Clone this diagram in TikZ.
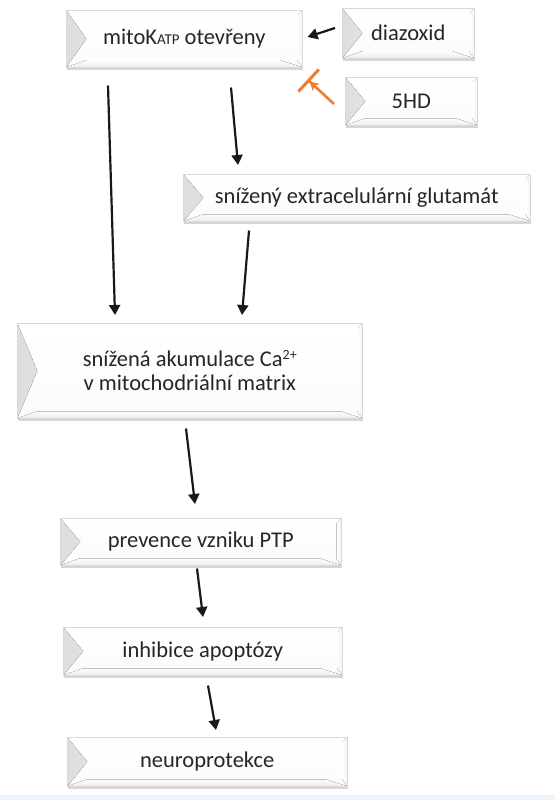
\documentclass[tikz,border=0pt]{standalone}
\usepackage{fontspec}
\setmainfont{Carlito}
\usetikzlibrary{arrows.meta,calc,shadows}
\definecolor{txt}{RGB}{38,38,38}
\definecolor{inhib}{RGB}{242,124,48}
\definecolor{strip}{RGB}{236,243,251}
\tikzset{
  box/.style={draw=gray!30, line width=0.5pt, top color=white, bottom color=gray!3,
    drop shadow={shadow xshift=1pt,shadow yshift=-2.5pt,opacity=0.45,fill=gray!70},
    anchor=north west, inner sep=0pt, align=center, text=txt,
    font=\fontsize{22.5}{24.5}\selectfont,
    path picture={
      \fill[left color=gray!26,right color=gray!3]
        (path picture bounding box.north west) -- ([xshift=20pt]path picture bounding box.west)
        -- (path picture bounding box.south west) -- cycle;
      \fill[top color=gray!3,bottom color=gray!14]
        ([xshift=20pt,yshift=7pt]path picture bounding box.south west)
        -- ([xshift=-22pt,yshift=7pt]path picture bounding box.south east)
        -- (path picture bounding box.south east) -- (path picture bounding box.south west) -- cycle;
      \fill[left color=white,right color=gray!10]
        ([xshift=-5pt,yshift=-5pt]path picture bounding box.north east)
        -- ([xshift=-5pt,yshift=7pt]path picture bounding box.south east)
        -- (path picture bounding box.south east) -- (path picture bounding box.north east) -- cycle;
    }},
  arr/.style={line width=2.2pt, black!90, -{Triangle[length=10pt,width=11pt]}},
  inh/.style={line width=2.6pt, inhib, -{Stealth[length=9pt,width=10pt] Bar[width=30pt,line width=3pt]}}
}
\begin{document}
\begin{tikzpicture}[x=1pt,y=-1pt]
\useasboundingbox (0,0) rectangle (555,800);
\fill[white] (0,0) rectangle (555,800);
\fill[strip] (0,795) rectangle (555,800);

\node[box, minimum width=236pt, minimum height=57pt] (mk) at (66,10)
  {mitoK{\fontsize{15}{15}\selectfont ATP} otevřeny};
\node[box, minimum width=132pt, minimum height=50pt] (dz) at (342,8) {diazoxid};
\node[box, minimum width=132pt, minimum height=48pt] (hd) at (345,77) {5HD};
\node[box, minimum width=347pt, minimum height=47pt] (gl) at (183,174) {snížený extracelulární glutamát};
\node[box, minimum width=345pt, minimum height=95pt] (ak) at (17,323)
  {snížená akumulace Ca{\fontsize{14}{14}\selectfont\raisebox{7pt}{2+}}\\v mitochodriální matrix};
\node[box, minimum width=281pt, minimum height=47pt] (pv) at (60,518) {prevence vzniku PTP};
\node[box, minimum width=279pt, minimum height=48pt] (ih) at (63,627) {inhibice apoptózy};
\node[box, minimum width=280pt, minimum height=49pt] (nr) at (67,737) {neuroprotekce};

\draw[arr] ($(dz.north west)+(-7,20)$) -- ($(mk.north east)+(5,27)$);
\draw[inh] ($(hd.north west)+(-11,27)$) -- ($(mk.south east)+(5,12)$);
\draw[arr] ($(mk.south west)+(42,18)$) -- ($(ak.north west)+(98,-8)$);
\draw[arr] ($(mk.south west)+(165,20)$) -- ($(gl.north west)+(55,-9)$);
\draw[arr] ($(gl.south west)+(66,9)$) -- ($(ak.north west)+(225,-8)$);
\draw[arr] ($(ak.south west)+(169,10)$) -- ($(pv.north west)+(135,-14)$);
\draw[arr] ($(pv.south west)+(137,3)$) -- ($(ih.north west)+(140,-10)$);
\draw[arr] ($(ih.south west)+(145,10)$) -- ($(nr.north west)+(149,-7)$);
\end{tikzpicture}
\end{document}
